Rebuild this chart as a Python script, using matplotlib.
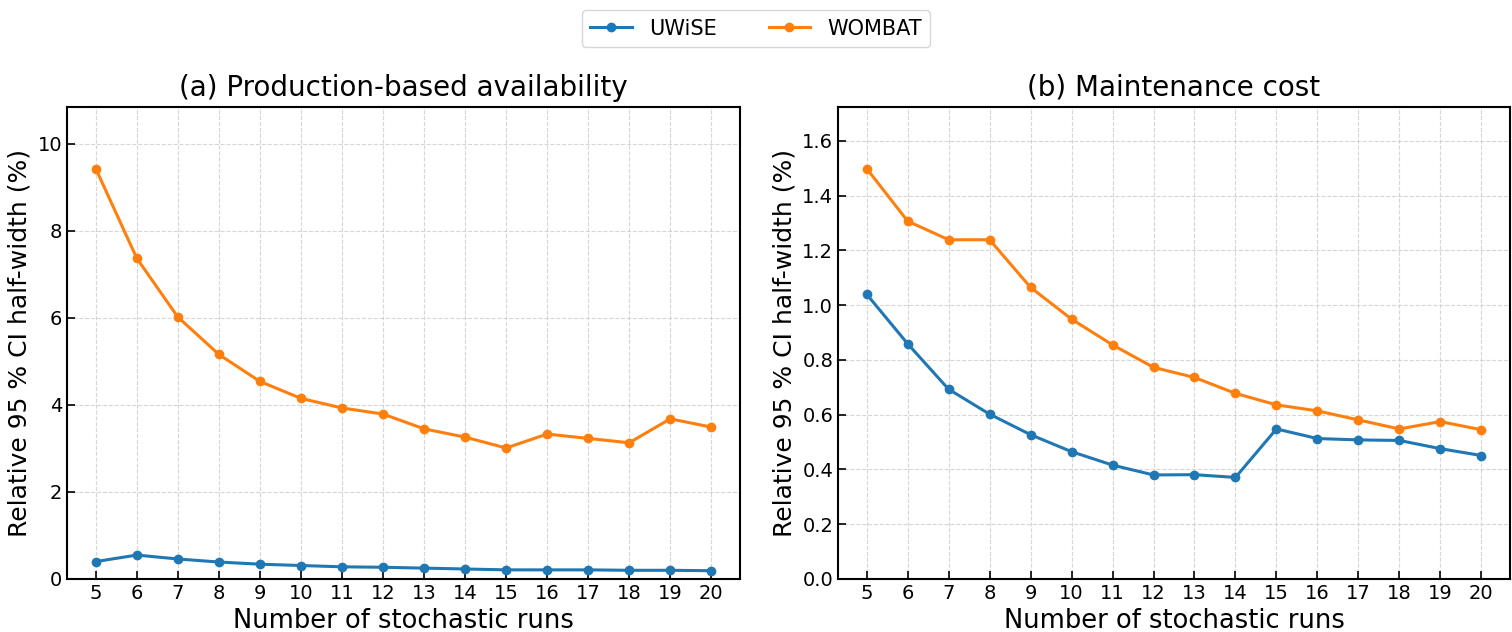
import numpy as np
import matplotlib
matplotlib.use("Agg")
import matplotlib.pyplot as plt

# number of stochastic runs
runs = list(range(5, 21))

# (a) production-based availability, relative 95 % CI half-width (%)
avail_uwise = [0.40, 0.55, 0.46, 0.39, 0.34, 0.31, 0.28, 0.27, 0.25, 0.23, 0.21, 0.21, 0.21, 0.20, 0.20, 0.19]
avail_wombat = [9.43, 7.37, 6.02, 5.16, 4.54, 4.15, 3.93, 3.79, 3.45, 3.26, 3.01, 3.33, 3.23, 3.13, 3.68, 3.49]

# (b) maintenance cost
cost_uwise = [1.040, 0.859, 0.693, 0.602, 0.527, 0.465, 0.416, 0.380, 0.381, 0.371, 0.548, 0.513, 0.508, 0.506, 0.476, 0.451]
cost_wombat = [1.499, 1.307, 1.239, 1.239, 1.065, 0.949, 0.855, 0.773, 0.736, 0.678, 0.636, 0.614, 0.581, 0.548, 0.575, 0.545]

titles = ["(a) Production-based availability", "(b) Maintenance cost"]

fig = plt.figure(figsize=(15.12, 6.32), dpi=100)
ax1 = fig.add_axes([67/1512, 1 - 579/632, (740-67)/1512, (579-107)/632])
ax2 = fig.add_axes([838/1512, 1 - 579/632, (1510-838)/1512, (579-107)/632])

for ax, uw, wo, title in [(ax1, avail_uwise, avail_wombat, titles[0]),
                          (ax2, cost_uwise, cost_wombat, titles[1])]:
    ax.plot(runs, uw, marker="o", color="#1f77b4", lw=2.2, ms=6, label="UWiSE")
    ax.plot(runs, wo, marker="o", color="#ff7f0e", lw=2.2, ms=6, label="WOMBAT")
    ax.set_title(title, fontsize=20, pad=8)
    ax.set_xlabel("Number of stochastic runs", fontsize=18.5, labelpad=4)
    ax.set_ylabel("Relative 95 % CI half-width (%)", fontsize=18, labelpad=4)
    ax.set_xticks(runs)
    ax.set_xlim(4.3, 20.7)
    ax.set_ylim(0, max(wo) * 1.15)
    ax.tick_params(direction="in", labelsize=14, length=6, width=1.2)
    ax.grid(True, ls="--", color="#cccccc", lw=0.8, alpha=0.8)
    for s in ax.spines.values():
        s.set_linewidth(1.5)

ax2.set_yticks(np.arange(0, 1.61, 0.2))

h, l = ax1.get_legend_handles_labels()
fig.legend(h, l, loc="upper center", ncol=2, fontsize=15,
           bbox_to_anchor=(0.5, 1.0), columnspacing=2.5)

fig.savefig("out.png", dpi=100)
